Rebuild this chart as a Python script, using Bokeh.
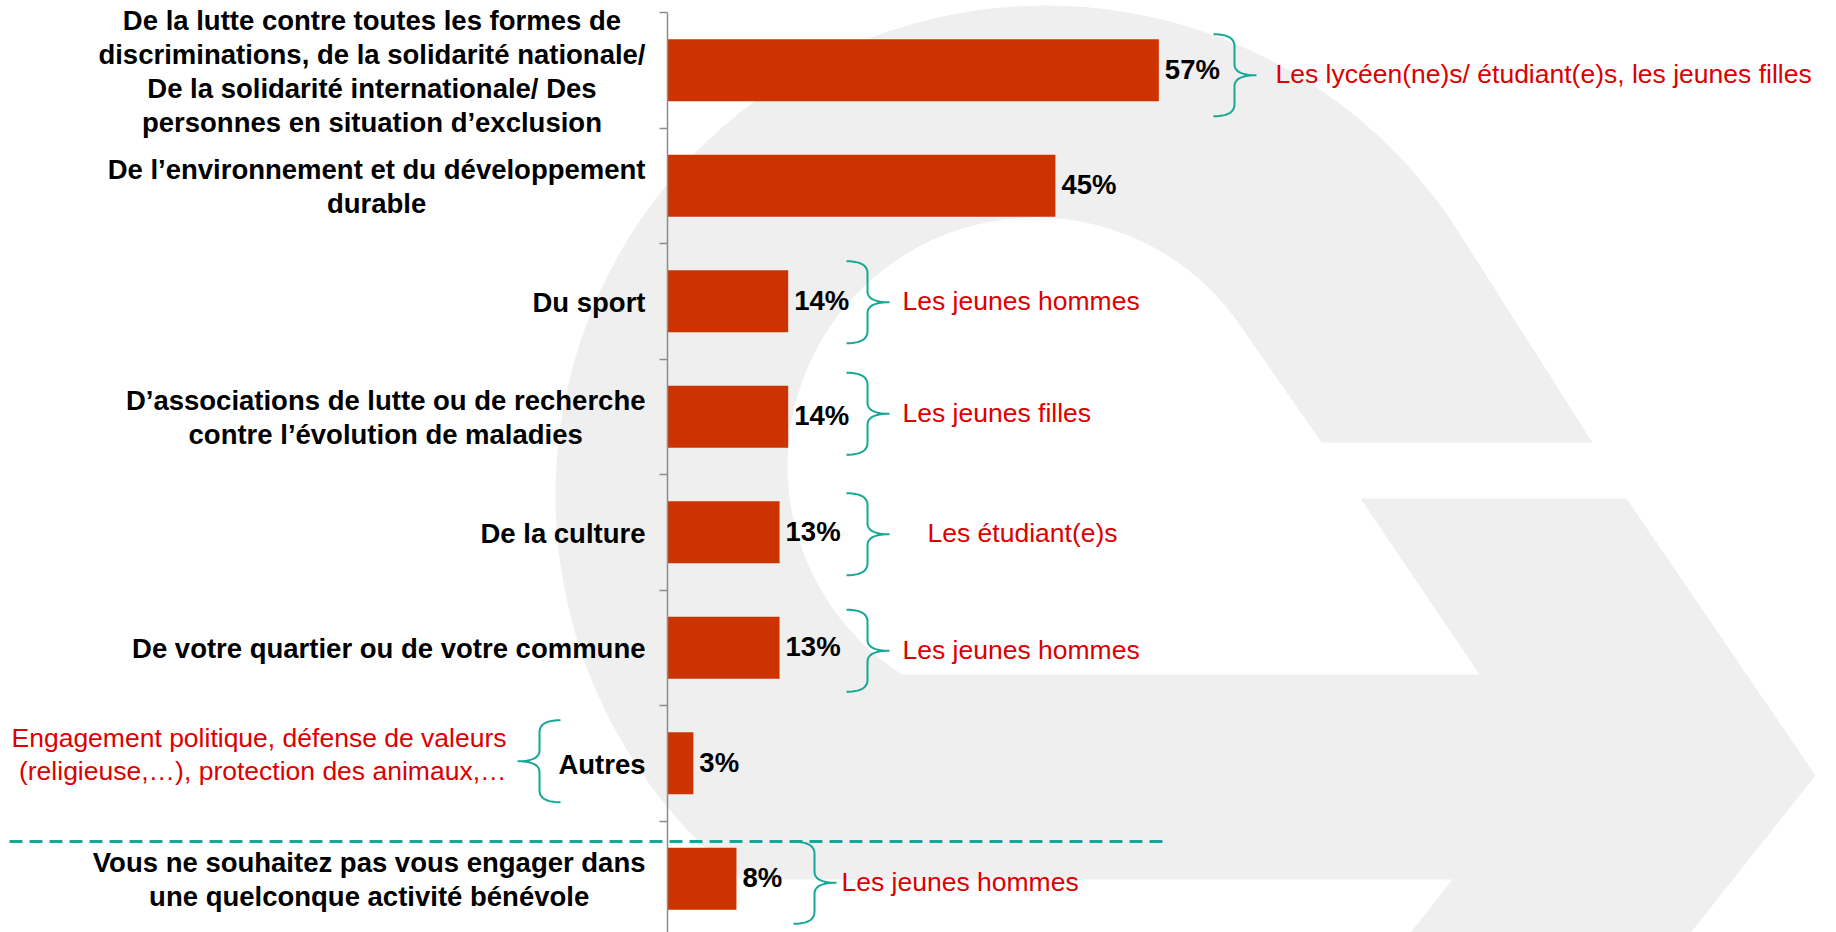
import numpy as np
from bokeh.plotting import figure
from bokeh.models import Range1d, LinearAxis, FixedTicker, ColumnDataSource
from bokeh.core.properties import value
from bokeh.embed import file_html
from bokeh.resources import INLINE

# ---------------- data ----------------
categories = [
    "De la lutte contre toutes les formes de\ndiscriminations, de la solidarité nationale/\nDe la solidarité internationale/ Des\npersonnes en situation d’exclusion",
    "De l’environnement et du développement\ndurable",
    "Du sport",
    "D’associations de lutte ou de recherche\ncontre l’évolution de maladies",
    "De la culture",
    "De votre quartier ou de votre commune",
    "Autres",
    "Vous ne souhaitez pas vous engager dans\nune quelconque activité bénévole",
]
values = [57, 45, 14, 14, 13, 13, 3, 8]
value_labels = ["57%", "45%", "14%", "14%", "13%", "13%", "3%", "8%"]
subgroup_labels = [
    "Les lycéen(ne)s/ étudiant(e)s, les jeunes filles",
    "",
    "Les jeunes hommes",
    "Les jeunes filles",
    "Les étudiant(e)s",
    "Les jeunes hommes",
    "",
    "Les jeunes hommes",
]
autres_detail = "Engagement politique, défense de valeurs\n(religieuse,…), protection des animaux,…"

# ---------------- layout (page pixels) ----------------
W, H = 1836, 932          # figure size (page has no margin in Bokeh's template)
PAGE = 0
AXIS_X = 667              # page x of the value axis (0 %)
TOP_Y = 12                # page y of the top of the category axis
PX = 8.62                 # pixels per percent
ROW = 115.5               # pixels per category
BAR_H = 0.537

def fx(X):
    return (np.asarray(X, dtype=float) - AXIS_X) / PX

def fy(Y):
    return (np.asarray(Y, dtype=float) - TOP_Y) / ROW - 0.5

def page_y(row):
    return TOP_Y + ROW * (row + 0.5)

RED = "#dd0000"
TEAL = "#17a797"
BAR = "#cc3300"
GREY_BG = "#efefef"
FONT = value("Liberation Sans")

p = figure(
    width=W, height=H,
    x_range=Range1d(float(fx(PAGE)), float(fx(PAGE + W))),
    y_range=Range1d(float(fy(PAGE + H)), float(fy(PAGE))),
    output_backend="svg", toolbar_location=None,
    x_axis_location=None, y_axis_location=None,
    min_border=0, outline_line_color=None,
    background_fill_color="white", border_fill_color="white",
)
p.grid.visible = False

# ---------------- watermark (decorative logo) ----------------
def arc(cx, cy, r, a0, a1, n=80):
    t = np.radians(np.linspace(a0, a1, n))
    return list(cx + r * np.cos(t)), list(cy + r * np.sin(t))

def tangent_deg(cx, cy, r, px_, py_):
    dx, dy = px_ - cx, py_ - cy
    d = np.hypot(dx, dy)
    return np.degrees(np.arctan2(dy, dx) - np.arccos(r / d))

ci = (1035, 465, 248)
co = (1045, 495, 490)
arm_in = (1321, 442)
arm_out = (1592, 442)
band_top, band_bot = 674, 879

ti = tangent_deg(*ci, *arm_in)
bi = 180 - np.degrees(np.arcsin((band_top - ci[1]) / ci[2]))
to = tangent_deg(*co, *arm_out)
bo = 180 - np.degrees(np.arcsin((band_bot - co[1]) / co[2]))

wx, wy = [arm_in[0]], [arm_in[1]]
ax_, ay_ = arc(ci[0], ci[1], ci[2], ti, bi - 360)
wx += ax_; wy += ay_
wx += [1479, 1360, 1626, 1815, 1684, 1404, 1452]
wy += [band_top, 498, 498, 775, 940, 940, band_bot]
ax_, ay_ = arc(co[0], co[1], co[2], bo - 360, to)
wx += ax_; wy += ay_
wx += [arm_out[0]]; wy += [arm_out[1]]
p.patch(list(fx(wx)), list(fy(wy)), fill_color=GREY_BG, line_color=None)

# ---------------- axis ----------------
rows = list(range(len(categories)))
yax = LinearAxis(
    fixed_location=0,
    ticker=FixedTicker(ticks=[r - 0.5 for r in rows] + [len(rows) - 0.5]),
    bounds=(-0.5, len(rows) - 0.5),
    major_tick_out=8, major_tick_in=0, minor_tick_out=0, minor_tick_in=0,
    major_label_text_font_size="0px",
    axis_line_color="#8c8c8c", major_tick_line_color="#8c8c8c",
    axis_line_width=1.5, major_tick_line_width=1.5,
)
yax.major_label_overrides = {r - 0.5: "" for r in rows + [len(rows)]}
p.add_layout(yax, "left")

# ---------------- bars ----------------
src = ColumnDataSource(dict(y=rows, v=values, lab=value_labels, cat=categories))
p.hbar(y="y", left=0, right="v", height=BAR_H, fill_color=BAR, line_color=None, source=src)

p.text(x="v", y="y", text="lab", source=src, x_offset=6, y_offset=-1,
       text_align="left", text_baseline="middle", text_font=FONT,
       text_font_style="bold", text_font_size="27.5px", text_color="black")

p.text(x=float(fx(645)), y="y", text="cat", source=src, anchor="center_right",
       text_align="center", text_baseline="middle", text_font=FONT,
       text_font_style="bold", text_font_size="27.5px", text_color="black",
       text_line_height=1.1, y_offset=1)

# ---------------- separator ----------------
p.segment(x0=[float(fx(9))], y0=[float(fy(841))], x1=[float(fx(1168))], y1=[float(fy(841))],
          line_color=TEAL, line_width=3, line_dash="13 7")

# ---------------- braces + sub-group notes ----------------
def qbez(p0, c, p1, n=14):
    t = np.linspace(0, 1, n)[:, None]
    p0, c, p1 = map(np.asarray, (p0, c, p1))
    return (1 - t) ** 2 * p0 + 2 * (1 - t) * t * c + t ** 2 * p1

def brace(x0, yc, s=1, h=41, w1=21, w2=22, r=12, r2=11):
    xv = x0 + s * w1
    xt = xv + s * w2
    parts = [
        qbez((x0, yc - h), (xv, yc - h), (xv, yc - h + r)),
        qbez((xv, yc - r2), (xv, yc), (xt, yc)),
        qbez((xt, yc), (xv, yc), (xv, yc + r2)),
        qbez((xv, yc + h - r), (xv, yc + h), (x0, yc + h)),
    ]
    pts = np.vstack(parts)
    return list(fx(pts[:, 0])), list(fy(pts[:, 1]))

# (row, hook x, vertical shift, note x)
brace_layout = [(0, 1213, 5, 1275), (2, 846, 1, 902), (3, 846, -3, 902),
                (4, 846, 2, 927), (5, 846, 3, 902), (7, 793, 4, 841)]
bxs, bys = [], []
nx, ny, nt = [], [], []
for row, xh, dy, xn in brace_layout:
    yc = page_y(row) + dy
    bx, by = brace(xh, yc)
    bxs.append(bx); bys.append(by)
    nx.append(float(fx(xn))); ny.append(float(fy(yc - 1))); nt.append(subgroup_labels[row])
# left-facing brace for "Autres"
yc = page_y(6) - 2
bx, by = brace(560, yc, s=-1)
bxs.append(bx); bys.append(by)
p.multi_line(bxs, bys, line_color=TEAL, line_width=2)

p.text(x=nx, y=ny, text=nt, text_align="left", text_baseline="middle",
       text_font=FONT, text_font_size="26.5px", text_color=RED)

p.text(x=[float(fx(506))], y=[float(fy(754))], text=[autres_detail],
       text_align="right", text_baseline="middle", text_font=FONT,
       text_font_size="26.5px", text_color=RED, text_line_height=1.07)

open("out.html", "w").write(file_html(p, INLINE))
